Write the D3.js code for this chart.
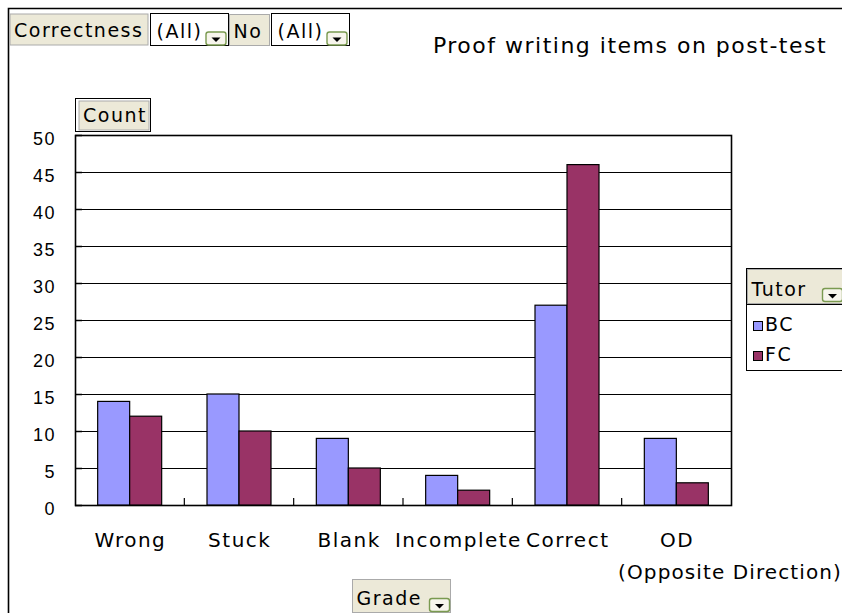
<!DOCTYPE html>
<html>
<head>
<meta charset="utf-8">
<script src="https://cdn.jsdelivr.net/npm/d3@7"></script>
<style>
body { margin: 0; background: #fff; }
svg { font-family: "DejaVu Sans", Verdana, sans-serif; letter-spacing: 1.5px; }
</style>
</head>
<body>
<div id="chart"></div>
<script>
const GRADES = ["Wrong", "Stuck", "Blank", "Incomplete", "Correct", "OD"];
const TUTORS = ["BC", "FC"];
const BC_COUNTS = [14, 15, 9, 4, 27, 9];
const FC_COUNTS = [12, 10, 5, 2, 46, 3];
const Y_TICKS = [0, 5, 10, 15, 20, 25, 30, 35, 40, 45, 50];
const COLORS = ["#9999FF", "#993366"];
const BEIGE = "#ECE9D8";

const W = 842, H = 613;
const plot = {left: 75, right: 731, top: 135, bottom: 505};

const svg = d3.select("#chart").append("svg").attr("width", W).attr("height", H);

// outer frame
svg.append("path").attr("d", `M8.5,${H} V8.5 H${W}`).attr("fill", "none").attr("stroke", "#000").attr("stroke-width", 1.6);

const x = d3.scaleBand().domain(GRADES).range([plot.left, plot.right]);
const xi = d3.scaleBand().domain(TUTORS).range([0, 64]);
const y = d3.scaleLinear().domain([0, 50]).range([plot.bottom, plot.top]);

// gridlines
svg.append("g").selectAll("line").data(Y_TICKS.filter(d => d > 0)).enter().append("line")
	.attr("x1", plot.left).attr("x2", plot.right)
	.attr("y1", d => y(d) + 0.5).attr("y2", d => y(d) + 0.5)
	.attr("stroke", "#000").attr("stroke-width", 1);

// plot border
svg.append("rect").attr("x", plot.left + 0.5).attr("y", plot.top + 0.5)
	.attr("width", plot.right - plot.left).attr("height", plot.bottom - plot.top)
	.attr("fill", "none").attr("stroke", "#000").attr("stroke-width", 1.6);

// bars
const rows = GRADES.map((g, i) => ({grade: g, values: [BC_COUNTS[i], FC_COUNTS[i]]}));
const groups = svg.append("g").selectAll("g").data(rows).enter().append("g")
	.attr("transform", d => `translate(${x(d.grade) + x.bandwidth() / 2 - 32},0)`);
groups.selectAll("rect").data(d => d.values.map((v, j) => ({tutor: TUTORS[j], v, j}))).enter().append("rect")
	.attr("x", d => xi(d.tutor))
	.attr("y", d => y(d.v))
	.attr("width", xi.bandwidth())
	.attr("height", d => y(0) - y(d.v))
	.attr("fill", d => COLORS[d.j])
	.attr("stroke", "#000").attr("stroke-width", 1.2);

// y axis, ticks drawn inside the plot
const yAxis = svg.append("g").attr("transform", `translate(${plot.left},0)`)
	.call(d3.axisLeft(y).tickValues(Y_TICKS).tickSize(0).tickPadding(19));
yAxis.select(".domain").remove();
yAxis.selectAll("text").attr("font-size", 18).attr("fill", "#000").attr("dy", "0.55em").attr("font-family", null);
yAxis.selectAll(".tick line").attr("x2", 7).attr("stroke", "#000").attr("stroke-width", 1.5);

// x category separators
svg.append("g").selectAll("line").data(GRADES.slice(1)).enter().append("line")
	.attr("x1", d => x(d)).attr("x2", d => x(d))
	.attr("y1", plot.bottom - 7).attr("y2", plot.bottom)
	.attr("stroke", "#000").attr("stroke-width", 1.2);

// category labels
svg.append("g").selectAll("text").data(GRADES).enter().append("text")
	.attr("x", d => x(d) + x.bandwidth() / 2 + 0.75).attr("y", 547)
	.attr("text-anchor", "middle").attr("font-size", 20)
	.text(d => d);
svg.append("text").attr("x", 730).attr("y", 579).attr("text-anchor", "middle").attr("font-size", 20)
	.attr("letter-spacing", "1.1px")
	.text("(Opposite Direction)");

// title
svg.append("text").attr("x", 630).attr("y", 53).attr("text-anchor", "middle").attr("font-size", 22)
	.text("Proof writing items on post-test");

function fieldButton(x0, y0, w, h, label) {
	svg.append("rect").attr("x", x0).attr("y", y0).attr("width", w).attr("height", h)
		.attr("fill", BEIGE).attr("stroke", "#aaa").attr("stroke-width", 1);
	svg.append("text").attr("x", x0 + 4).attr("y", y0 + h - 8).attr("font-size", 19).text(label);
}
function dropArrow(x0, y0) {
	svg.append("rect").attr("x", x0 + 0.5).attr("y", y0 + 0.5).attr("width", 20).attr("height", 13).attr("rx", 2.5)
		.attr("fill", "#F7F5EC").attr("stroke", "#7A9A50").attr("stroke-width", 1.4);
	svg.append("path").attr("d", `M${x0 + 6},${y0 + 6} h9 l-4.5,4.5 z`).attr("fill", "#000");
}
function selectBox(x0, y0, w, h, label) {
	svg.append("rect").attr("x", x0).attr("y", y0).attr("width", w).attr("height", h)
		.attr("fill", "#fff").attr("stroke", "#000").attr("stroke-width", 1);
	svg.append("text").attr("x", x0 + 6).attr("y", y0 + 24).attr("font-size", 19).text(label);
	dropArrow(x0 + w - 23, y0 + h - 14);
}

// page fields
fieldButton(10, 14, 138, 31, "Correctness");
selectBox(150.5, 13.5, 78, 32, "(All)");
fieldButton(229.5, 14.5, 40, 31, "No");
selectBox(271.5, 13.5, 78, 32, "(All)");

// Count data field
svg.append("rect").attr("x", 75.5).attr("y", 98.5).attr("width", 75).attr("height", 33)
	.attr("fill", "#fff").attr("stroke", "#000").attr("stroke-width", 1);
fieldButton(79, 101, 70, 29, "Count");

// Grade button
fieldButton(352.5, 579.5, 98, 33, "Grade");
dropArrow(429, 598);

// legend
const lg = svg.append("g");
lg.append("rect").attr("x", 746.5).attr("y", 268.5).attr("width", 110).attr("height", 102)
	.attr("fill", "#fff").attr("stroke", "#000").attr("stroke-width", 1);
fieldButton(747.5, 269.5, 110, 34, "Tutor");
lg.append("line").attr("x1", 747).attr("x2", W).attr("y1", 304.5).attr("y2", 304.5).attr("stroke", "#000");
dropArrow(822, 288);
lg.selectAll("g.item").data(TUTORS).enter().append("g").attr("class", "item")
	.each(function (d, i) {
		const g = d3.select(this);
		const base = 331 + i * 30;
		g.append("rect").attr("x", 753.5).attr("y", base - 9.5).attr("width", 9).attr("height", 9)
			.attr("fill", COLORS[i]).attr("stroke", "#000").attr("stroke-width", 1);
		g.append("text").attr("x", 765).attr("y", base).attr("font-size", 19).text(d);
	});
</script>
</body>
</html>
